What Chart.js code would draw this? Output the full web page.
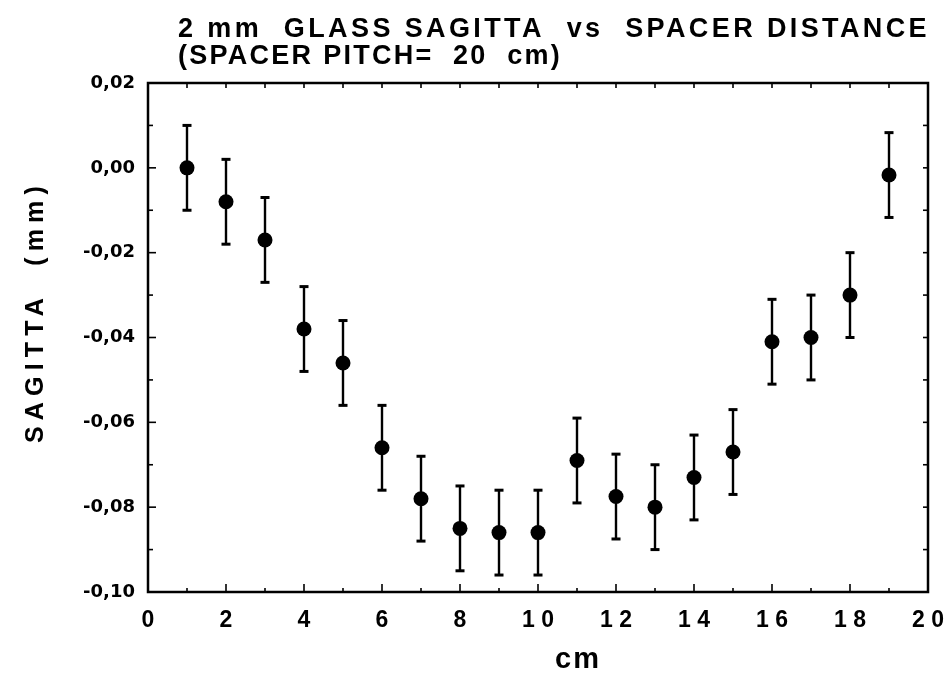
<!DOCTYPE html>
<html>
<head>
<meta charset="utf-8">
<script src="https://cdn.jsdelivr.net/npm/chart.js@4.4.0/dist/chart.umd.min.js"></script>
<style>
	body { margin: 0; background: #fff; }
</style>
</head>
<body>
<canvas id="chart" width="950" height="678"></canvas>
<script>
// spacer distance (cm) and measured sagitta (mm)
const positions = [1, 2, 3, 4, 5, 6, 7, 8, 9, 10, 11, 12, 13, 14, 15, 16, 17, 18, 19];
const sagitta = [0.000, -0.008, -0.017, -0.038, -0.046, -0.066, -0.078, -0.085, -0.086, -0.086,
	-0.069, -0.0775, -0.080, -0.073, -0.067, -0.041, -0.040, -0.030, -0.0017];
const errors = [0.01, 0.01, 0.01, 0.01, 0.01, 0.01, 0.01, 0.01, 0.01, 0.01,
	0.01, 0.01, 0.01, 0.01, 0.01, 0.01, 0.01, 0.01, 0.01];
const xTickLabels = ['0', '2', '4', '6', '8', '1 0', '1 2', '1 4', '1 6', '1 8', '2 0'];
const yTickLabels = ['-0,10', '-0,08', '-0,06', '-0,04', '-0,02', '0,00', '0,02'];

const titleLines = ['2 mm  GLASS SAGITTA  vs  SPACER DISTANCE', '(SPACER PITCH=  20  cm)'];

function fitText(ctx, text, x, y, width) {
	ctx.letterSpacing = '0px';
	const w = ctx.measureText(text).width;
	const n = text.length;
	ctx.letterSpacing = ((width - w) / n) + 'px';
	ctx.fillText(text, x, y);
	ctx.letterSpacing = '0px';
}

function seg(ctx, x1, y1, x2, y2) {
	ctx.beginPath();
	ctx.moveTo(x1, y1);
	ctx.lineTo(x2, y2);
	ctx.stroke();
}

const decorations = {
	id: 'decorations',
	beforeDatasetsDraw(chart) {
		const { ctx, chartArea: a } = chart;
		const { x, y } = chart.scales;
		ctx.save();
		ctx.strokeStyle = '#000';

		// error bars
		positions.forEach((p, i) => {
			const px = x.getPixelForValue(p);
			const top = y.getPixelForValue(sagitta[i] + errors[i]);
			const bot = y.getPixelForValue(sagitta[i] - errors[i]);
			ctx.lineWidth = 2.4;
			seg(ctx, px, top, px, bot);
			ctx.lineWidth = 3;
			seg(ctx, px - 4.5, top, px + 4.5, top);
			seg(ctx, px - 4.5, bot, px + 4.5, bot);
		});

		// inward ticks
		ctx.lineWidth = 1.6;
		for (let v = 0; v <= 20; v++) {
			const px = x.getPixelForValue(v);
			seg(ctx, px, a.bottom, px, a.bottom - (v % 2 ? 4 : 8));
			seg(ctx, px, a.top, px, a.top + 5);
		}
		for (let k = -10; k <= 2; k++) {
			const py = y.getPixelForValue(k / 100);
			seg(ctx, a.left, py, a.left + (k % 2 ? 5 : 8), py);
			seg(ctx, a.right, py, a.right - 5, py);
		}

		// frame
		ctx.lineWidth = 2.5;
		ctx.strokeRect(a.left, a.top, a.width, a.height);
		ctx.restore();
	},
	afterDraw(chart) {
		const { ctx } = chart;
		ctx.save();
		ctx.fillStyle = '#000';
		ctx.textAlign = 'left';
		ctx.textBaseline = 'alphabetic';

		ctx.font = 'bold 27px "Liberation Sans"';
		fitText(ctx, titleLines[0], 178, 37, 752);
		fitText(ctx, titleLines[1], 178, 64, 384);

		ctx.font = 'bold 25px "Liberation Sans"';
		ctx.translate(43, 443);
		ctx.rotate(-Math.PI / 2);
		fitText(ctx, 'SAGITTA  (mm)', 0, 0, 263);
		ctx.setTransform(1, 0, 0, 1, 0, 0);

		ctx.font = 'bold 29px "Liberation Sans"';
		fitText(ctx, 'cm', 555, 668, 46);
		ctx.restore();
	}
};

new Chart(document.getElementById('chart'), {
	type: 'scatter',
	data: {
		datasets: [{
			data: positions.map((p, i) => ({ x: p, y: sagitta[i] })),
			backgroundColor: '#000',
			borderWidth: 0,
			pointRadius: 7.5,
			showLine: false
		}]
	},
	options: {
		responsive: false,
		animation: false,
		events: [],
		layout: { padding: { top: 83, right: 22, bottom: 0, left: 0 } },
		plugins: { legend: { display: false }, tooltip: { enabled: false } },
		scales: {
			x: {
				type: 'linear',
				min: 0,
				max: 20,
				afterFit: scale => {
					scale.height = 86;
					scale.paddingLeft = 0;
					scale.paddingRight = 0;
				},
				grid: { display: false, drawTicks: false },
				border: { display: false },
				ticks: {
					stepSize: 2,
					autoSkip: false,
					maxRotation: 0,
					padding: 15,
					color: '#000',
					font: { family: '"Liberation Sans"', size: 23, weight: 'bold' },
					callback: v => xTickLabels[Math.round(v / 2)]
				}
			},
			y: {
				type: 'linear',
				min: -0.10,
				max: 0.02,
				afterFit: scale => {
					scale.width = 148;
					scale.paddingTop = 0;
					scale.paddingBottom = 0;
				},
				grid: { display: false, drawTicks: false },
				border: { display: false },
				ticks: {
					stepSize: 0.02,
					autoSkip: false,
					padding: 13,
					color: '#000',
					font: { family: '"DejaVu Sans"', size: 18, weight: 'bold' },
					callback: v => yTickLabels[Math.round((v + 0.10) / 0.02)]
				}
			}
		}
	},
	plugins: [decorations]
});
</script>
</body>
</html>
